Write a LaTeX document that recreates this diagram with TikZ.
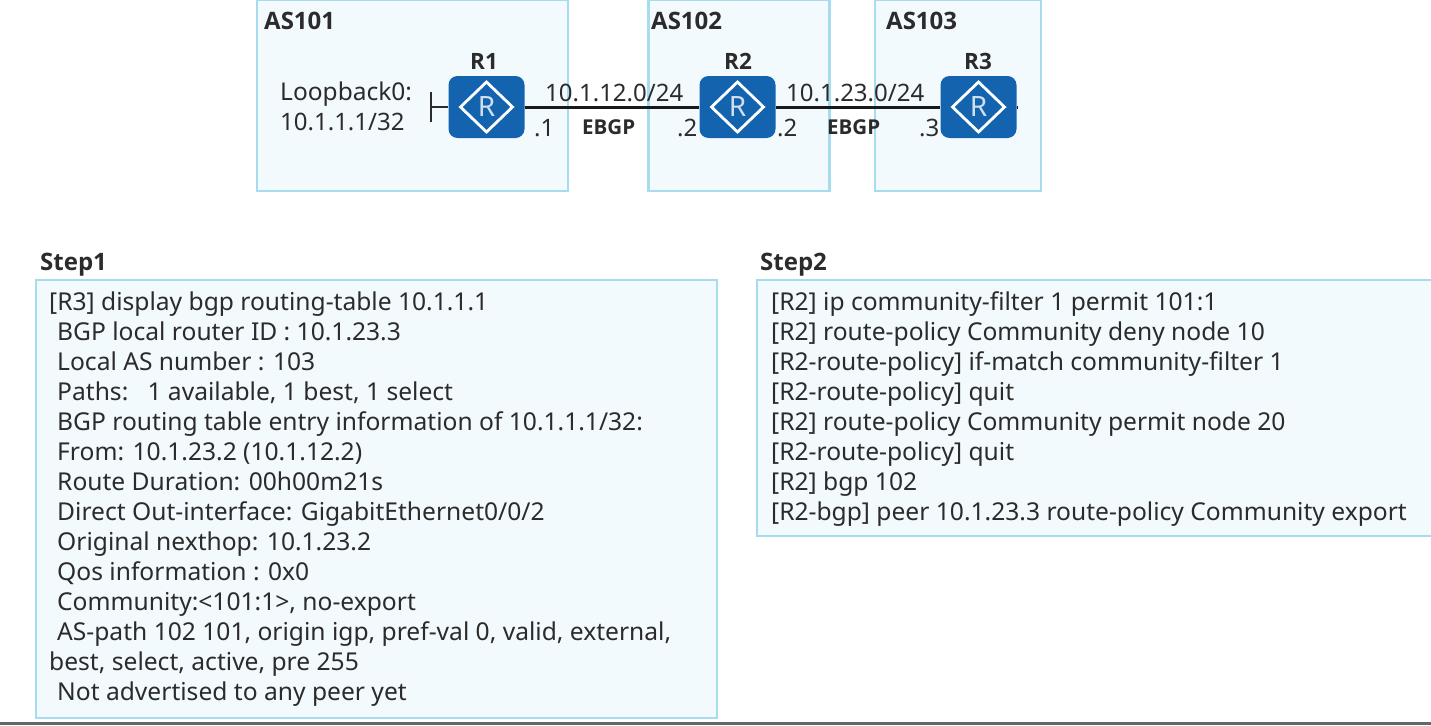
\documentclass[tikz,border=0pt]{standalone}
\usepackage{fontspec}
\setmainfont{Noto Sans}
\newfontfamily\heavyfont{Open Sans}[UprightFont=* Bold]
\definecolor{boxfill}{HTML}{F3FAFE}
\definecolor{boxline}{HTML}{A6DCEE}
\definecolor{router}{HTML}{1363AE}
\definecolor{ink}{HTML}{2B2B2B}
\tikzset{
 asbox/.style={draw=boxline,fill=boxfill,line width=2.5pt},
 codebox/.style={draw=boxline,fill=boxfill,line width=2pt},
 routerbox/.style={fill=router,rounded corners=9pt,minimum width=76pt,minimum height=62pt,inner sep=0pt,text=white},
 lab/.style={font=\fontsize{24}{24}\selectfont,text=ink,inner sep=0pt,anchor=base west},
 heavy/.style={font=\heavyfont\fontsize{24}{24}\selectfont,text=ink,inner sep=0pt,anchor=base west},
 nameb/.style={font=\heavyfont\fontsize{22.5}{22.5}\selectfont,text=ink,inner sep=0pt,anchor=base west},
 small/.style={font=\heavyfont\fontsize{20.5}{20.5}\selectfont,text=ink,inner sep=0pt,anchor=base west},
 code/.style={font=\fontsize{24.6}{24.6}\selectfont,text=ink,inner sep=0pt,anchor=base west},
 link/.style={line width=3pt,draw=black!90},
}
\newcommand{\routerglyph}[1]{%
 \draw[white,line width=2.8pt] ([yshift=25pt]#1.center) -- ([xshift=26pt]#1.center) -- ([yshift=-25pt]#1.center) -- ([xshift=-26pt]#1.center) -- cycle;
 \node[font=\fontsize{28}{28}\selectfont,text=white!80!router,inner sep=0pt] at (#1.center) {R};
}
\begin{document}
\begin{tikzpicture}[x=1pt,y=-1pt]
\useasboundingbox (0,0) rectangle (1431,725);
\fill[white] (0,0) rectangle (1431,725);
% AS boxes
\draw[asbox] (257,0) rectangle (568,191);
\draw[asbox] (648.5,0) rectangle (829.5,191);
\draw[asbox] (875,0) rectangle (1041,191);
\node[heavy] (as1) at (264,30) {AS101};
\node[heavy] (as2) at (651,30) {AS102};
\node[heavy] (as3) at (886,30) {AS103};
% routers
\node[routerbox] (r1) at (486.5,107) {};
\node[routerbox] (r2) at (737.5,107) {};
\node[routerbox] (r3) at (978.5,107) {};
\coordinate (stub) at (431,107);
\coordinate (r3end) at (1018,107);
\draw[link] (r1) -- (r2);
\draw[link] (r2) -- (r3);
\draw[link] (r3.east) -- (r3end);
\draw[line width=2.2pt,draw=ink] (stub) -- (r1);
\draw[line width=2.2pt,draw=ink] ([yshift=-15pt]stub) -- ([yshift=15pt]stub);
\routerglyph{r1}
\routerglyph{r2}
\routerglyph{r3}
\node[nameb] (n1) at (470,70) {R1};
\node[nameb] (n2) at (724,70) {R2};
\node[nameb] (n3) at (964,70) {R3};
\node[lab,font=\fontsize{24.5}{24.5}\selectfont] (lb1) at (280,100) {Loopback0:};
\node[lab] (lb2) at (280,130) {10.1.1.1/32};
\node[lab] (net1) at (545,101) {10.1.12.0/24};
\node[lab] (net2) at (786,101) {10.1.23.0/24};
\node[small] (eb1) at (582,134) {EBGP};
\node[small] (eb2) at (827,134) {EBGP};
\node[lab] (d1) at (534,136) {.1};
\node[lab] (d2) at (677,136) {.2};
\node[lab] (d3) at (777,136) {.2};
\node[lab] (d4) at (919,136) {.3};
% Step 1
\node[heavy] (s1) at (40,270) {Step1};
\draw[codebox] (35.5,280) rectangle (716.5,718);
\foreach \t/\x/\y in {
 {[R3] display bgp routing-table 10.1.1.1}/49/310,
 {BGP local router ID : 10.1.23.3}/57/340,
 {Local AS number : 103}/57/370,
 {Paths:\ \ \ 1 available, 1 best, 1 select}/57/400,
 {BGP routing table entry information of 10.1.1.1/32:}/57/430,
 {From: 10.1.23.2 (10.1.12.2)}/57/460,
 {Route Duration: 00h00m21s}/57/490,
 {Direct Out-interface: GigabitEthernet0/0/2}/57/520,
 {Original nexthop: 10.1.23.2}/57/550,
 {Qos information : 0x0}/57/580,
 {Community:<101:1>, no-export}/57/610,
 {AS-path 102 101, origin igp, pref-val 0, valid, external,}/57/640,
 {best, select, active, pre 255}/49/670,
 {Not advertised to any peer yet}/57/700}
 \node[code] at (\x,\y) {\t};
% Step 2
\node[heavy] (s2) at (760,270) {Step2};
\fill[boxfill] (757.5,281) rectangle (1431,535);
\draw[codebox] (1431,280) -- (756.5,280) -- (756.5,536) -- (1431,536);
\foreach \t/\y in {
 {[R2] ip community-filter 1 permit 101:1}/310,
 {[R2] route-policy Community deny node 10}/340,
 {[R2-route-policy] if-match community-filter 1}/370,
 {[R2-route-policy] quit}/400,
 {[R2] route-policy Community permit node 20}/430,
 {[R2-route-policy] quit}/460,
 {[R2] bgp 102}/490,
 {[R2-bgp] peer 10.1.23.3 route-policy Community export}/520}
 \node[code] at (771,\y) {\t};
\fill[black!60] (0,722) rectangle (1431,725);
\end{tikzpicture}
\end{document}
